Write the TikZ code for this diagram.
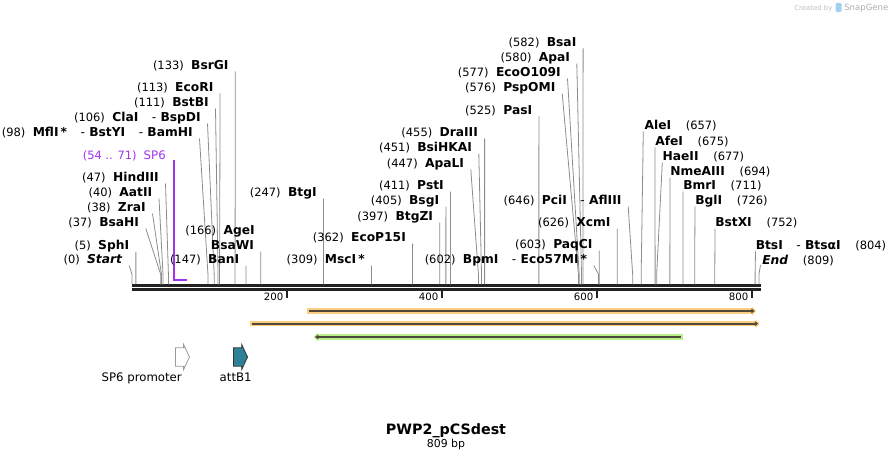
\documentclass[tikz,border=0pt]{standalone}
\usepackage{fontspec}
\setmainfont{DejaVu Sans}
\usepackage{xcolor}
\usepackage{tikz}
\usetikzlibrary{arrows.meta, shapes.arrows, calc}
\definecolor{sitegray}{RGB}{140,140,140}
\definecolor{seqblack}{RGB}{34,34,34}
\definecolor{sp6purple}{RGB}{160,50,240}
\definecolor{primerorange}{RGB}{252,204,128}
\definecolor{primergreen}{RGB}{186,240,140}
\definecolor{primercore}{RGB}{78,72,58}
\definecolor{attteal}{RGB}{46,128,150}
\definecolor{logogray}{RGB}{192,192,192}
\definecolor{logoblue}{RGB}{160,210,240}

\newcommand{\posn}[1]{{\mdseries\fontsize{8.6}{10}\selectfont(#1)}}
\newcommand{\lgap}{\hspace{0.6em}}
\newcommand{\rgap}{\hspace{1.2em}}
\newcommand{\cutsep}{\hspace{1.1em}{\mdseries-}\hspace{0.35em}}

\begin{document}
\begin{tikzpicture}[
    x=0.75pt, y=-0.75pt,
    enz/.style={inner sep=0pt, font=\fontsize{9.2}{11}\selectfont\bfseries, text height=6.7pt, text depth=0pt},
    lenz/.style={enz, anchor=east},
    renz/.style={enz, anchor=west},
    site/.style={draw=sitegray, line width=0.6pt},
    seqbar/.style={draw=seqblack, line width=2pt},
    tick/.style={draw=seqblack, line width=1pt},
    ticklbl/.style={inner sep=0pt, anchor=east, font=\fontsize{7.6}{9}\selectfont, text height=5.5pt, text depth=0pt},
    band/.style={line width=4pt, -{Triangle[length=3pt, width=6.5pt]}},
    bandcore/.style={draw=primercore, line width=1.5pt, shorten <=1.5pt, shorten >=1pt, -{Triangle[length=2.5pt, width=3.5pt]}},
    featarrow/.style={single arrow, inner xsep=0pt, inner ysep=6.6pt, minimum height=10.5pt, single arrow head extend=2.5pt, single arrow tip angle=130, single arrow head indent=0pt, line width=0.6pt},
    featlbl/.style={inner sep=0pt, font=\fontsize{8.8}{10}\selectfont, text height=6.4pt, text depth=0pt},
    credit/.style={inner sep=0pt, text=logogray, text height=4pt, text depth=0pt}
]
    \useasboundingbox (0,0) rectangle (893,460);

    % cut positions on the sequence
    \foreach \p in {0,5,37,38,40,47,98,106,111,113,133,147,166,247,309,362,397,405,411,447,451,455,525,576,577,580,582,602,603,626,646,657,675,677,694,711,726,752,804,809}
        \coordinate (p\p) at ({132+0.775*\p},284.3);

    % sequence
    \coordinate (seqL) at (132,285.7);
    \coordinate (seqR) at (760.5,285.7);
    \draw[seqbar] (seqL) -- (seqR);
    \draw[seqbar] ([yshift=-3pt]seqL) -- ([yshift=-3pt]seqR);
    \foreach \t in {200,400,600,800} {
        \coordinate (t\t) at ({132+0.775*\t},291.3);
        \draw[tick] (t\t) -- ++(0,7);
        \node[ticklbl] (tl\t) at ([shift={(-3.5,5.7)}]t\t) {\t};
    }

    % enzymes, left of their lines
    \node[lenz] (start) at (122.7,259) {\posn{0}\lgap\textit{Start}};
    \draw[site] ([shift={(6.5,6.5)}]start.east) -- ([yshift=7.5pt]p0) -- (p0);
    \node[lenz] (sphi) at (129.4,245) {\posn{5}\lgap SphI};
    \draw[site] ([shift={(6.5,6.5)}]sphi.east) -- ([yshift=7.5pt]p5) -- (p5);
    \node[lenz] (bsahi) at (139.3,222) {\posn{37}\lgap BsaHI};
    \draw[site] ([shift={(6.5,6.5)}]bsahi.east) -- ([yshift=7.5pt]p37) -- (p37);
    \node[lenz] (zrai) at (146,207) {\posn{38}\lgap ZraI};
    \draw[site] ([shift={(6.5,6.5)}]zrai.east) -- ([yshift=7.5pt]p38) -- (p38);
    \node[lenz] (aatii) at (152.5,192) {\posn{40}\lgap AatII};
    \draw[site] ([shift={(6.5,6.5)}]aatii.east) -- ([yshift=7.5pt]p40) -- (p40);
    \node[lenz] (hindiii) at (159,177) {\posn{47}\lgap HindIII};
    \draw[site] ([shift={(6.5,6.5)}]hindiii.east) -- ([yshift=7.5pt]p47) -- (p47);
    \node[lenz, font=\fontsize{8.8}{10}\selectfont\mdseries, text=sp6purple] (sp6) at (166,155) {\posn{54 .. 71}\lgap SP6};
    \coordinate (sp6s) at (173.9,280);
    \coordinate (sp6e) at (187,280);
    \draw[draw=sp6purple, line width=1.1pt] (sp6s |- sp6.south) -- (sp6s) -- (sp6e);
    \node[lenz] (mfli) at (193,132) {\posn{98}\lgap MflI\,*\cutsep BstYI\cutsep BamHI};
    \draw[site] ([shift={(6.5,6.5)}]mfli.east) -- ([yshift=7.5pt]p98) -- (p98);
    \node[lenz] (clai) at (201,117) {\posn{106}\lgap ClaI\cutsep BspDI};
    \draw[site] ([shift={(6.5,6.5)}]clai.east) -- ([yshift=7.5pt]p106) -- (p106);
    \node[lenz] (bstbi) at (209,102) {\posn{111}\lgap BstBI};
    \draw[site] ([shift={(6.5,6.5)}]bstbi.east) -- ([yshift=7.5pt]p111) -- (p111);
    \node[lenz] (ecori) at (213.6,87) {\posn{113}\lgap EcoRI};
    \draw[site] ([shift={(6.5,6.5)}]ecori.east) -- ([yshift=7.5pt]p113) -- (p113);
    \node[lenz] (bsrgi) at (228.8,65) {\posn{133}\lgap BsrGI};
    \draw[site] ([shift={(6.5,6.5)}]bsrgi.east) -- ([yshift=7.5pt]p133) -- (p133);
    \node[lenz] (bani) at (239.4,259) {\posn{147}\lgap BanI};
    \draw[site] ([shift={(6.5,6.5)}]bani.east) -- ([yshift=7.5pt]p147) -- (p147);
    \node[lenz] (agei) at (255,230) {\posn{166}\lgap AgeI};
    \node[lenz] (bsawi) at (254.2,245) {BsaWI};
    \draw[site] ([shift={(6.5,6.5)}]bsawi.east) -- ([yshift=7.5pt]p166) -- (p166);
    \node[lenz] (btgi) at (316.9,192) {\posn{247}\lgap BtgI};
    \draw[site] ([shift={(6.5,6.5)}]btgi.east) -- ([yshift=7.5pt]p247) -- (p247);
    \node[lenz] (msci) at (365,259) {\posn{309}\lgap MscI\,*};
    \draw[site] ([shift={(6.5,6.5)}]msci.east) -- ([yshift=7.5pt]p309) -- (p309);
    \node[lenz] (ecop15i) at (406.1,237) {\posn{362}\lgap EcoP15I};
    \draw[site] ([shift={(6.5,6.5)}]ecop15i.east) -- ([yshift=7.5pt]p362) -- (p362);
    \node[lenz] (btgzi) at (433.3,216) {\posn{397}\lgap BtgZI};
    \draw[site] ([shift={(6.5,6.5)}]btgzi.east) -- ([yshift=7.5pt]p397) -- (p397);
    \node[lenz] (bsgi) at (439.4,200) {\posn{405}\lgap BsgI};
    \draw[site] ([shift={(6.5,6.5)}]bsgi.east) -- ([yshift=7.5pt]p405) -- (p405);
    \node[lenz] (psti) at (444,185) {\posn{411}\lgap PstI};
    \draw[site] ([shift={(6.5,6.5)}]psti.east) -- ([yshift=7.5pt]p411) -- (p411);
    \node[lenz] (apali) at (464.3,163) {\posn{447}\lgap ApaLI};
    \draw[site] ([shift={(6.5,6.5)}]apali.east) -- ([yshift=7.5pt]p447) -- (p447);
    \node[lenz] (bsihkai) at (472.3,147) {\posn{451}\lgap BsiHKAI};
    \draw[site] ([shift={(6.5,6.5)}]bsihkai.east) -- ([yshift=7.5pt]p451) -- (p451);
    \node[lenz] (draiii) at (478.1,132) {\posn{455}\lgap DraIII};
    \draw[site] ([shift={(6.5,6.5)}]draiii.east) -- ([yshift=7.5pt]p455) -- (p455);
    \node[lenz] (pasi) at (532.4,110) {\posn{525}\lgap PasI};
    \draw[site] ([shift={(6.5,6.5)}]pasi.east) -- ([yshift=7.5pt]p525) -- (p525);
    \node[lenz] (pspomi) at (555.7,87) {\posn{576}\lgap PspOMI};
    \draw[site] ([shift={(6.5,6.5)}]pspomi.east) -- ([yshift=7.5pt]p576) -- (p576);
    \node[lenz] (ecoo109i) at (561,72) {\posn{577}\lgap EcoO109I};
    \draw[site] ([shift={(6.5,6.5)}]ecoo109i.east) -- ([yshift=7.5pt]p577) -- (p577);
    \node[lenz] (apai) at (570.3,57) {\posn{580}\lgap ApaI};
    \draw[site] ([shift={(6.5,6.5)}]apai.east) -- ([yshift=7.5pt]p580) -- (p580);
    \node[lenz] (bsai) at (576.6,42) {\posn{582}\lgap BsaI};
    \draw[site] ([shift={(6.5,6.5)}]bsai.east) -- ([yshift=7.5pt]p582) -- (p582);
    \node[lenz] (bpmi) at (587.3,259) {\posn{602}\lgap BpmI\cutsep Eco57MI\,*};
    \draw[site] ([shift={(6.5,6.5)}]bpmi.east) -- ([yshift=7.5pt]p602) -- (p602);
    \node[lenz] (paqci) at (592.8,244) {\posn{603}\lgap PaqCI};
    \draw[site] ([shift={(6.5,6.5)}]paqci.east) -- ([yshift=7.5pt]p603) -- (p603);
    \node[lenz] (xcmi) at (610.7,222) {\posn{626}\lgap XcmI};
    \draw[site] ([shift={(6.5,6.5)}]xcmi.east) -- ([yshift=7.5pt]p626) -- (p626);
    \node[lenz] (pcii) at (621.7,200) {\posn{646}\lgap PciI\cutsep AflIII};
    \draw[site] ([shift={(6.5,6.5)}]pcii.east) -- ([yshift=7.5pt]p646) -- (p646);

    % enzymes, right of their lines
    \node[renz] (alei) at (644.3,125) {AleI\rgap\posn{657}};
    \draw[site] ([shift={(-1,6.5)}]alei.west) -- ([yshift=7.5pt]p657) -- (p657);
    \node[renz] (afei) at (655,141) {AfeI\rgap\posn{675}};
    \draw[site] ([shift={(0,6.5)}]afei.west) -- ([yshift=7.5pt]p675) -- (p675);
    \node[renz] (haeii) at (662.3,156) {HaeII\rgap\posn{677}};
    \draw[site] ([shift={(0,6.5)}]haeii.west) -- ([yshift=7.5pt]p677) -- (p677);
    \node[renz] (nmeaiii) at (670,171) {NmeAIII\rgap\posn{694}};
    \draw[site] ([shift={(0,6.5)}]nmeaiii.west) -- ([yshift=7.5pt]p694) -- (p694);
    \node[renz] (bmri) at (683,185) {BmrI\rgap\posn{711}};
    \draw[site] ([shift={(0,6.5)}]bmri.west) -- ([yshift=7.5pt]p711) -- (p711);
    \node[renz] (bgli) at (695,200) {BglI\rgap\posn{726}};
    \draw[site] ([shift={(0,6.5)}]bgli.west) -- ([yshift=7.5pt]p726) -- (p726);
    \node[renz] (bstxi) at (715,222) {BstXI\rgap\posn{752}};
    \draw[site] ([shift={(0,6.5)}]bstxi.west) -- ([yshift=7.5pt]p752) -- (p752);
    \node[renz] (btsi) at (755.5,245) {BtsI\cutsep Btsα{}I\rgap\posn{804}};
    \draw[site] ([shift={(0,6.5)}]btsi.west) -- ([yshift=7.5pt]p804) -- (p804);
    \node[renz] (endlbl) at (762,260) {\textit{End}\rgap\posn{809}};
    \draw[site] ([shift={(-1.5,5)}]endlbl.west) -- ([yshift=7.5pt]p809) -- (p809);

    % primers
    \coordinate (f1s) at (306.6,311);
    \coordinate (f1e) at (756,311);
    \draw[band, primerorange] (f1s) -- (f1e);
    \draw[bandcore] (f1s) -- (f1e);
    \coordinate (f2s) at (250,323.7);
    \coordinate (f2e) at (759.5,323.7);
    \draw[band, primerorange] (f2s) -- (f2e);
    \draw[bandcore] (f2s) -- (f2e);
    \coordinate (f3s) at (683.4,337);
    \coordinate (f3e) at (313.7,337);
    \draw[band, primergreen] (f3s) -- (f3e);
    \draw[bandcore] (f3s) -- (f3e);

    % features
    \node[featarrow, draw=gray!80, fill=white] (sp6prom) at (180.3,357) {};
    \node[featarrow, draw=black!80, fill=attteal] (attb1) at (238.4,357) {};
    \node[featlbl] (sp6promlbl) at (141.7,377) {SP6 promoter};
    \node[featlbl] (attb1lbl) at (235.7,377) {attB1};

    % title
    \node[inner sep=0pt, font=\fontsize{10.7}{12}\selectfont\bfseries, text height=7.8pt, text depth=0pt] (title) at (446,429) {PWP2\_pCSdest};
    \node[inner sep=0pt, font=\fontsize{8.2}{10}\selectfont, text height=6pt, text depth=0pt] (length) at (446,443.3) {809 bp};

    % credit
    \node[credit, anchor=east, font=\fontsize{5.2}{6}\selectfont] (createdby) at (832.7,7.5) {Created by};
    \node[fill=logoblue, rounded corners=1pt, inner sep=0pt, minimum width=4.5pt, minimum height=7pt] (logo) at (838.6,7.5) {};
    \node[credit, anchor=west, font=\fontsize{6.4}{7}\selectfont, text=logogray!90!black] (snapgene) at (844,7.5) {SnapGene};
\end{tikzpicture}
\end{document}
